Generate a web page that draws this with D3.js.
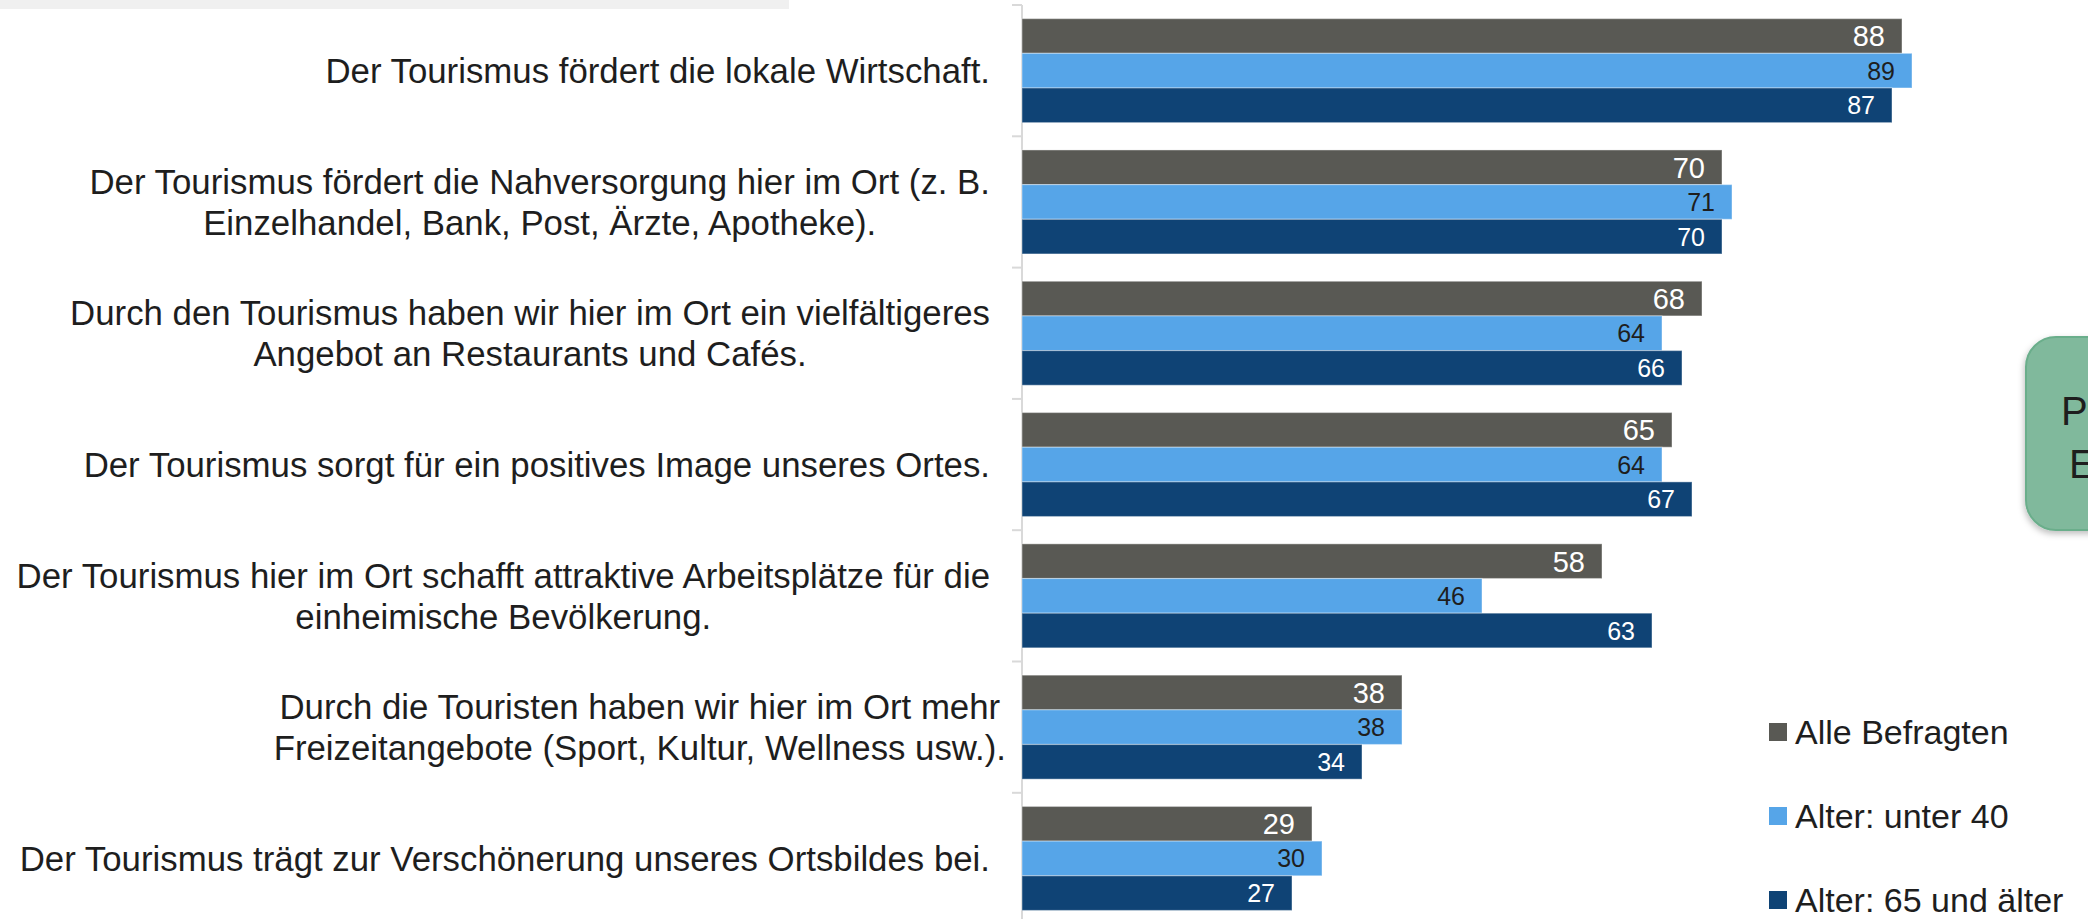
<!DOCTYPE html>
<html>
<head>
<meta charset="utf-8">
<script src="https://cdn.jsdelivr.net/npm/d3@7"></script>
<style>
  body { margin: 0; background: #ffffff; }
  svg { display: block; font-family: "Liberation Sans", Arial, sans-serif; }
</style>
</head>
<body>
<svg id="chart" width="2088" height="919"></svg>
<script>
// statements (top to bottom), line breaks as in the original
const statements = [
  ["Der Tourismus fördert die lokale Wirtschaft."],
  ["Der Tourismus fördert die Nahversorgung hier im Ort (z. B.", "Einzelhandel, Bank, Post, Ärzte, Apotheke)."],
  ["Durch den Tourismus haben wir hier im Ort ein vielfältigeres", "Angebot an Restaurants und Cafés."],
  ["Der Tourismus sorgt für ein positives Image unseres Ortes."],
  ["Der Tourismus hier im Ort schafft attraktive Arbeitsplätze für die", "einheimische Bevölkerung."],
  ["Durch die Touristen haben wir hier im Ort mehr", "Freizeitangebote (Sport, Kultur, Wellness usw.)."],
  ["Der Tourismus trägt zur Verschönerung unseres Ortsbildes bei."]
];

const seriesNames = ["Alle Befragten", "Alter: unter 40", "Alter: 65 und älter"];

const alleBefragten = [88, 70, 68, 65, 58, 38, 29];
const unter40 = [89, 71, 64, 64, 46, 38, 30];
const ab65 = [87, 70, 66, 67, 63, 34, 27];

const seriesValues = [alleBefragten, unter40, ab65];
const seriesColors = ["#595954", "#56a5e8", "#0f4375"];
const labelColors = ["#ffffff", "#1e1e1e", "#ffffff"];
const labelSizes = [29, 25, 25];

const svg = d3.select("#chart");

// light grey strip top left
svg.append("rect")
  .attr("x", 0).attr("y", 0)
  .attr("width", 789).attr("height", 9)
  .attr("fill", "#f0f0f0");

const x = d3.scaleLinear().domain([0, 100]).range([1022, 2022]);

const y = d3.scaleBand()
  .domain(d3.range(statements.length))
  .range([5, 5 + 7 * 131.3])
  .paddingInner(0.208)
  .paddingOuter(0.104);

const ySub = d3.scaleBand()
  .domain(d3.range(seriesNames.length))
  .range([0, y.bandwidth()]);

// axis line + ticks at category boundaries
const axis = svg.append("g");
axis.append("line")
  .attr("x1", x(0)).attr("x2", x(0))
  .attr("y1", y.range()[0]).attr("y2", 930)
  .attr("stroke", "#d9d9d9").attr("stroke-width", 2);
axis.selectAll(".tick")
  .data(d3.range(statements.length + 1))
  .join("line")
  .attr("x1", x(0) - 10).attr("x2", x(0))
  .attr("y1", i => y.range()[0] + i * y.step())
  .attr("y2", i => y.range()[0] + i * y.step())
  .attr("stroke", "#d9d9d9").attr("stroke-width", 2);

// bars
const groups = svg.selectAll(".grp")
  .data(statements.map((s, i) => i))
  .join("g")
  .attr("transform", i => `translate(0,${y(i)})`);

groups.each(function (i) {
  const g = d3.select(this);
  seriesValues.forEach((vals, s) => {
    g.append("rect")
      .attr("x", x(0))
      .attr("y", ySub(s))
      .attr("width", x(vals[i]) - x(0))
      .attr("height", ySub.bandwidth())
      .attr("fill", seriesColors[s])
      .attr("stroke", "#ffffff")
      .attr("stroke-opacity", 0.35)
      .attr("stroke-width", 1.2);
    g.append("text")
      .attr("x", x(vals[i]) - 17)
      .attr("y", ySub(s) + ySub.bandwidth() / 2)
      .attr("dy", "0.36em")
      .attr("text-anchor", "end")
      .attr("font-size", labelSizes[s])
      .attr("fill", labelColors[s])
      .text(vals[i]);
  });
});

// category labels, centred lines, block right aligned
const labelRight = 990;
const labelShift = [0, 0, 0, 0, 0, 16, 0];
const lineH = 41;
statements.forEach((lines, i) => {
  const t = svg.append("text")
    .attr("font-size", 34.8)
    .attr("fill", "#1e1e1e")
    .attr("text-anchor", "middle");
  const cy = y(i) + y.bandwidth() / 2;
  const spans = lines.map((ln, k) => t.append("tspan")
    .attr("y", cy + (k - (lines.length - 1) / 2) * lineH)
    .attr("dy", "0.36em")
    .text(ln));
  const maxW = d3.max(spans, sp => sp.node().getComputedTextLength());
  spans.forEach(sp => sp.attr("x", labelRight + labelShift[i] - maxW / 2));
});

// legend
const legend = svg.append("g");
seriesNames.forEach((name, s) => {
  const cy = 732 + s * 84;
  legend.append("rect")
    .attr("x", 1769).attr("y", cy - 9)
    .attr("width", 18).attr("height", 18)
    .attr("fill", seriesColors[s]);
  legend.append("text")
    .attr("x", 1795).attr("y", cy)
    .attr("dy", "0.36em")
    .attr("font-size", 34)
    .attr("fill", "#1e1e1e")
    .text(name);
});

// green note box, cut off at the right edge as in the original
const defs = svg.append("defs");
const f = defs.append("filter").attr("id", "shadow")
  .attr("x", "-20%").attr("y", "-20%").attr("width", "140%").attr("height", "140%");
f.append("feDropShadow")
  .attr("dx", -1).attr("dy", 3).attr("stdDeviation", 3)
  .attr("flood-color", "#000").attr("flood-opacity", 0.25);

svg.append("rect")
  .attr("x", 2026).attr("y", 337)
  .attr("width", 260).attr("height", 193)
  .attr("rx", 30)
  .attr("fill", "#80b99c")
  .attr("stroke", "#6aae8b")
  .attr("stroke-width", 2)
  .attr("filter", "url(#shadow)");

const note = svg.append("text")
  .attr("font-size", 40)
  .attr("fill", "#1e1e1e");
note.append("tspan").attr("x", 2061).attr("y", 425).text("Positive");
note.append("tspan").attr("x", 2069).attr("y", 478).text("Effekte");
</script>
</body>
</html>
